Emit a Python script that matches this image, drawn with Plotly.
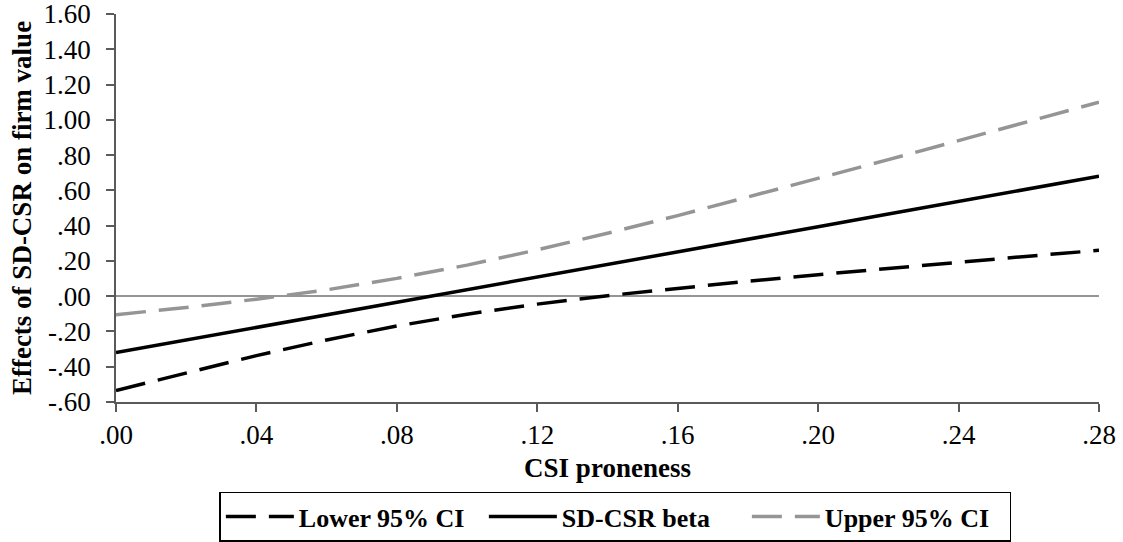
import plotly.graph_objects as go

csi = [0.00, 0.02, 0.04, 0.06, 0.08, 0.10, 0.12, 0.14, 0.16, 0.18, 0.20, 0.22, 0.24, 0.26, 0.28]
beta = [-0.320, -0.249, -0.177, -0.106, -0.034, 0.037, 0.109, 0.180, 0.251, 0.323, 0.394, 0.466, 0.537, 0.609, 0.680]
lower_ci = [-0.535, -0.434, -0.337, -0.248, -0.169, -0.102, -0.045, 0.003, 0.045, 0.085, 0.122, 0.158, 0.192, 0.227, 0.260]
upper_ci = [-0.105, -0.064, -0.017, 0.036, 0.101, 0.176, 0.263, 0.357, 0.457, 0.561, 0.666, 0.774, 0.882, 0.991, 1.100]

x_tickvals = [0.00, 0.04, 0.08, 0.12, 0.16, 0.20, 0.24, 0.28]
x_ticktext = [".00", ".04", ".08", ".12", ".16", ".20", ".24", ".28"]
y_tickvals = [1.6, 1.4, 1.2, 1.0, 0.8, 0.6, 0.4, 0.2, 0.0, -0.2, -0.4, -0.6]
y_ticktext = ["1.60", "1.40", "1.20", "1.00", ".80", ".60", ".40", ".20", ".00", "-.20", "-.40", "-.60"]

FONT = "Liberation Serif"
GRAY = "#959595"
DASH = "30px,13px"

fig = go.Figure()
fig.add_trace(go.Scatter(x=csi, y=lower_ci, mode="lines", name="Lower 95% CI",
                         line=dict(color="black", width=3.5, dash=DASH)))
fig.add_trace(go.Scatter(x=csi, y=beta, mode="lines", name="SD-CSR beta",
                         line=dict(color="black", width=3.5)))
fig.add_trace(go.Scatter(x=csi, y=upper_ci, mode="lines", name="Upper 95% CI",
                         line=dict(color=GRAY, width=3.5, dash=DASH)))

fig.update_layout(
    width=1123, height=542,
    margin=dict(l=116, r=24, t=14, b=140, autoexpand=False),
    paper_bgcolor="white", plot_bgcolor="white",
    font=dict(family=FONT, size=27, color="black"),
    showlegend=True,
    legend=dict(orientation="h", xanchor="center", x=0.508,
                yref="container", yanchor="top", y=0.093,
                bordercolor="black", borderwidth=1.5,
                font=dict(family=FONT, size=26, color="black", weight="bold"),
                itemwidth=68, entrywidth=180, entrywidthmode="pixels"),
)
fig.update_xaxes(
    range=[0, 0.28], tickvals=x_tickvals, ticktext=x_ticktext,
    showgrid=False, zeroline=False, automargin=False,
    showline=True, linecolor="#5a5a5a", linewidth=1.5,
    ticks="outside", ticklen=8, tickwidth=1.5, tickcolor="#5a5a5a",
    ticklabelstandoff=0, ticklabeloverflow="allow",
    tickfont=dict(family=FONT, size=27, color="black"),
    title=dict(text="CSI proneness", font=dict(family=FONT, size=27, color="black", weight="bold"), standoff=9),
)
fig.update_yaxes(
    range=[-0.6, 1.6], tickvals=y_tickvals, ticktext=y_ticktext,
    showgrid=False, zeroline=True, zerolinecolor=GRAY, zerolinewidth=2,
    automargin=False,
    showline=True, linecolor="#5a5a5a", linewidth=1.5,
    ticks="outside", ticklen=8, tickwidth=1.5, tickcolor="#5a5a5a",
    ticklabelstandoff=10, ticklabeloverflow="allow",
    tickfont=dict(family=FONT, size=27, color="black"),
    title=dict(text="Effects of SD-CSR on firm value", font=dict(family=FONT, size=27, color="black", weight="bold"), standoff=4),
)

fig.write_html("out.html")
